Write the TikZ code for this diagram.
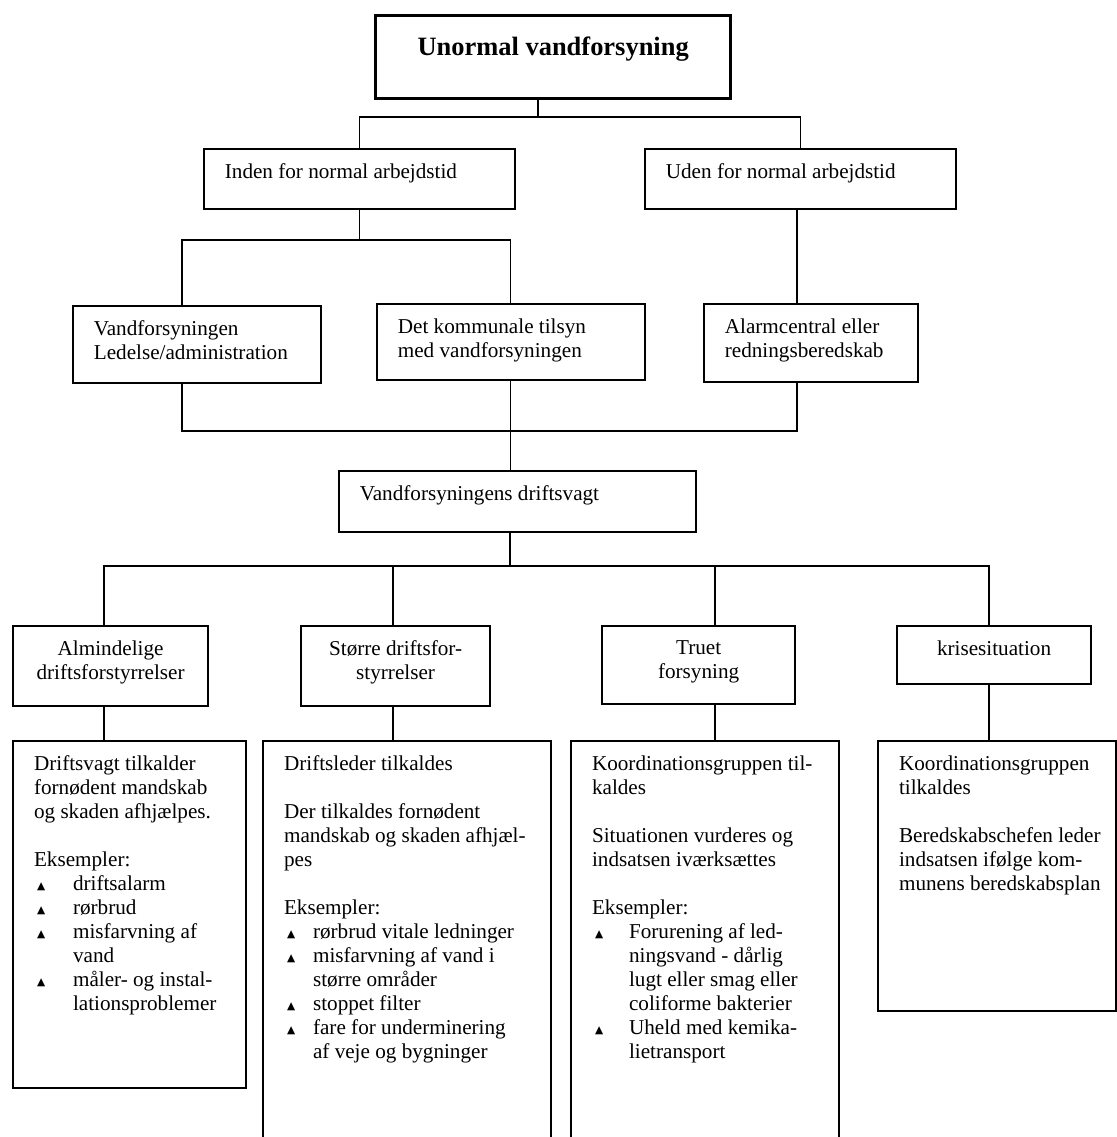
\documentclass[tikz,border=0pt]{standalone}
\usepackage{fontspec}
\setmainfont{Liberation Serif}
\newfontfamily\symfont{DejaVu Sans}

\newlength{\pxu}\setlength{\pxu}{0.567pt}
\newcommand{\boxtxt}[3]{\makebox[#1\pxu][l]{\parbox[c][#2\pxu][t]{\dimexpr#1\pxu+20\pxu\relax}{\raggedright #3}}}
\newcommand{\midtxt}[3]{\parbox[c][#2\pxu][t]{#1\pxu}{\centering #3}}
\newcommand{\bul}[1]{\makebox[#1\pxu][l]{\hspace*{3\pxu}\raisebox{0.6pt}{\symfont\fontsize{6}{6}\selectfont ▲}}}
\newcommand{\ind}[1]{\hspace*{#1\pxu}}

\begin{document}
\begin{tikzpicture}[x=0.567pt, y=-0.567pt,
    box/.style={rectangle, draw, line width=1pt, anchor=north west, inner xsep=11.9pt, inner ysep=8.5pt, font=\fontsize{12}{13.6}\selectfont},
    headbox/.style={box, line width=1.9pt, inner ysep=11.9pt, font=\fontsize{15}{17}\selectfont\bfseries},
    casebox/.style={box, line width=1.2pt, inner xsep=5.7pt},
    stepbox/.style={box, line width=1.2pt},
    link/.style={line width=0.7pt}]
    \useasboundingbox (0,0) rectangle (1117,1137);
    \clip (0,0) rectangle (1117,1137);

    \node[headbox] (title)   at (374,14)  {\midtxt{313}{41}{Unormal vandforsyning}};
    \node[box]     (inden)   at (203,148) {\boxtxt{269}{30}{Inden for normal arbejdstid}};
    \node[box]     (uden)    at (644,148) {\boxtxt{269}{30}{Uden for normal arbejdstid}};
    \node[box]     (ledelse) at (72,305)  {\boxtxt{206}{47}{Vandforsyningen\\Ledelse/administration}};
    \node[box]     (tilsyn)  at (376,303) {\boxtxt{226}{46}{Det kommunale tilsyn\\med vandforsyningen}};
    \node[box]     (alarm)   at (703,303) {\boxtxt{172}{48}{Alarmcentral eller\\redningsberedskab}};
    \node[box]     (vagt)    at (338,470) {\boxtxt{315}{31}{Vandforsyningens driftsvagt}};

    \node[casebox] (alm)     at (12,625)  {\midtxt{175}{50}{Almindelige\\driftsforstyrrelser}};
    \node[casebox] (stoerre) at (300,625) {\midtxt{169}{50}{Større driftsfor-\\styrrelser}};
    \node[casebox] (truet)   at (601,625) {\midtxt{173}{48}{Truet\\forsyning}};
    \node[casebox] (krise)   at (896,625) {\midtxt{174}{28}{krisesituation}};

    \node[stepbox] (almtxt) at (12,740) {\boxtxt{191}{317}{%
        Driftsvagt tilkalder\\
        fornødent mandskab\\
        og skaden afhjælpes.\\[\baselineskip]
        Eksempler:\\
        \bul{39}driftsalarm\\
        \bul{39}rørbrud\\
        \bul{39}misfarvning af\\
        \ind{39}vand\\
        \bul{39}måler- og instal-\\
        \ind{39}lationsproblemer}};
    \node[stepbox] (stoerretxt) at (262,740) {\boxtxt{246}{390}{%
        Driftsleder tilkaldes\\[\baselineskip]
        Der tilkaldes fornødent\\
        mandskab og skaden afhjæl-\\
        pes\\[\baselineskip]
        Eksempler:\\
        \bul{29}rørbrud vitale ledninger\\
        \bul{29}misfarvning af vand i\\
        \ind{29}større områder\\
        \bul{29}stoppet filter\\
        \bul{29}fare for underminering\\
        \ind{29}af veje og bygninger}};
    \node[stepbox] (truettxt) at (570,740) {\boxtxt{226}{390}{%
        Koordinationsgruppen til-\\
        kaldes\\[\baselineskip]
        Situationen vurderes og\\
        indsatsen iværksættes\\[\baselineskip]
        Eksempler:\\
        \bul{37}Forurening af led-\\
        \ind{37}ningsvand - dårlig\\
        \ind{37}lugt eller smag eller\\
        \ind{37}coliforme bakterier\\
        \bul{37}Uheld med kemika-\\
        \ind{37}lietransport}};
    \node[stepbox] (krisetxt) at (877,740) {\boxtxt{196}{240}{%
        Koordinationsgruppen\\
        tilkaldes\\[\baselineskip]
        Beredskabschefen leder\\
        indsatsen ifølge kom-\\
        munens beredskabsplan}};

    % junctions of the connector bars
    \coordinate (top)  at (538,117);
    \coordinate (midL) at (182,240);
    \coordinate (lowL) at (182,431);
    \coordinate (lowR) at (797,431);
    \coordinate (bus)  at (510,566);
    \coordinate (colA) at (104,566);
    \coordinate (colB) at (393,566);
    \coordinate (colC) at (715,566);
    \coordinate (colD) at (989,566);

    \draw[link] (title.south -| top) -- (top);
    \draw[link] (inden.north) |- (top) -| (uden.north);
    \draw[link] (inden.south) -- (inden.south |- midL);
    \draw[link] (ledelse.north -| midL) -- (midL) -| (tilsyn.north);
    \draw[link] (uden.south -| lowR) -- (alarm.north -| lowR);
    \draw[link] (ledelse.south -| lowL) -- (lowL) -- (lowR) -- (alarm.south -| lowR);
    \draw[link] (tilsyn.south) -- (vagt.north -| tilsyn.south);
    \draw[link] (vagt.south -| bus) -- (bus);
    \draw[link] (alm.north -| colA) -- (colA) -- (colD) -- (krise.north -| colD);
    \draw[link] (stoerre.north -| colB) -- (colB);
    \draw[link] (truet.north -| colC) -- (colC);
    \foreach \c/\a/\b in {colA/alm/almtxt, colB/stoerre/stoerretxt, colC/truet/truettxt, colD/krise/krisetxt}
        \draw[link] (\a.south -| \c) -- (\b.north -| \c);
\end{tikzpicture}
\end{document}
